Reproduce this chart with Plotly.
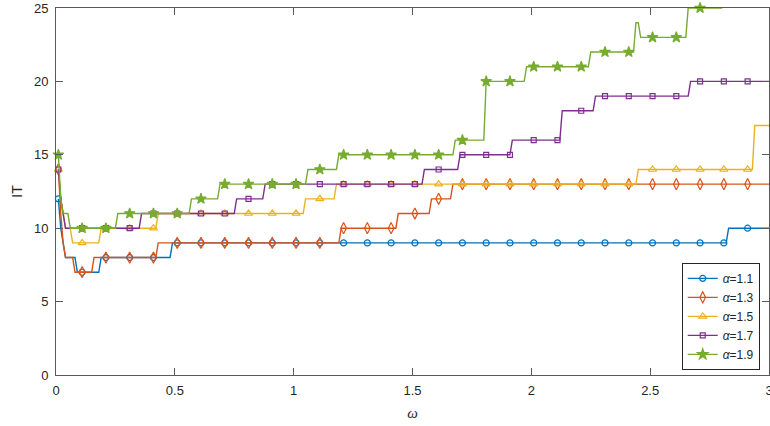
import numpy as np
import plotly.graph_objects as go

# omega grid (0.01 : 0.01 : 3)
omega = np.round(np.arange(1, 301) * 0.01, 2)

# Step data: omega where each IT level starts, and the level
blue_start = [0.01, 0.02, 0.03, 0.04, 0.09, 0.19, 0.49, 2.83]
blue_val = [12, 10, 9, 8, 7, 8, 9, 10]

orange_start = [0.01, 0.02, 0.03, 0.04, 0.08, 0.16, 0.43, 1.20, 1.44, 1.58, 1.67]
orange_val = [14, 11, 9, 8, 7, 8, 9, 10, 11, 12, 13]

yellow_start = [0.01, 0.02, 0.03, 0.04, 0.07, 0.19, 0.43, 1.05, 1.18, 2.45, 2.94]
yellow_val = [14, 12, 11, 10, 9, 10, 11, 12, 13, 14, 17]

purple_start = [0.01, 0.02, 0.03, 0.04, 0.36, 0.76, 0.88, 1.55, 1.70, 1.92, 2.13, 2.27, 2.67]
purple_val = [14, 12, 11, 10, 11, 12, 13, 14, 15, 16, 18, 19, 20]

green_start = [0.01, 0.02, 0.03, 0.06, 0.26, 0.57, 0.69, 1.06, 1.19, 1.68, 1.81, 1.98,
               2.25, 2.44, 2.46, 2.66, 2.81]
green_val = [15, 12, 11, 10, 11, 12, 13, 14, 15, 16, 20, 21, 22, 24, 23, 25, 26]

names = ["1.1", "1.3", "1.5", "1.7", "1.9"]
colors = ["#0072BD", "#D95319", "#EDB120", "#7E2F8E", "#77AC30"]
symbols = ["circle-open", "diamond-tall-open", "triangle-up-open", "square-open", "star"]
sizes = [6, 8, 7, 5, 8]

x_ticks = [0, 0.5, 1, 1.5, 2, 2.5, 3]
y_ticks = [0, 5, 10, 15, 20, 25]


def expand(starts, vals):
    idx = np.searchsorted(np.array(starts), omega + 1e-9, side="right") - 1
    return np.array(vals)[idx]


series = [
    expand(blue_start, blue_val),
    expand(orange_start, orange_val),
    expand(yellow_start, yellow_val),
    expand(purple_start, purple_val),
    expand(green_start, green_val),
]

fig = go.Figure()
for name, col, sym, sz, y in zip(names, colors, symbols, sizes, series):
    fig.add_trace(go.Scatter(x=omega, y=y, mode="lines",
                             line=dict(color=col, width=1.4),
                             showlegend=False, hoverinfo="skip"))
    mi = slice(0, None, 10)
    fig.add_trace(go.Scatter(x=omega[mi], y=y[mi], mode="markers",
                             marker=dict(symbol=sym, size=sz, color=col,
                                         line=dict(color=col, width=1.2)),
                             cliponaxis=False, showlegend=False))
    fig.add_trace(go.Scatter(x=[None], y=[None], mode="lines+markers",
                             name="<i>α</i>=" + name,
                             line=dict(color=col, width=1.4),
                             marker=dict(symbol=sym, size=sz, color=col,
                                         line=dict(color=col, width=1.2))))

axis_common = dict(showline=True, linecolor="#5a5a5a", linewidth=1, mirror="ticks",
                   ticks="inside", ticklen=7, tickcolor="#5a5a5a", tickwidth=1,
                   showgrid=False, zeroline=False, automargin=False,
                   ticklabeloverflow="allow",
                   tickfont=dict(family="Liberation Sans, Arial", size=13, color="#262626"))

fig.update_layout(
    width=770, height=426,
    margin=dict(l=56, r=1, t=8, b=51),
    plot_bgcolor="white", paper_bgcolor="white",
    xaxis=dict(range=[0, 3], tickvals=x_ticks, ticktext=[str(v) for v in x_ticks],
               ticklabelstandoff=3,
               title=dict(text="<i>ω</i>", font=dict(family="Liberation Serif", size=15, color="#262626"),
                          standoff=10),
               **axis_common),
    yaxis=dict(range=[0, 25], tickvals=y_ticks, ticklabelstandoff=4,
               title=dict(text="IT", font=dict(family="Liberation Sans, Arial", size=14, color="#262626"),
                          standoff=8),
               **axis_common),
    legend=dict(x=0.987, y=0.014, xanchor="right", yanchor="bottom",
                bgcolor="white", bordercolor="#262626", borderwidth=1,
                font=dict(family="Liberation Sans, Arial", size=12, color="#262626"),
                itemwidth=30, tracegroupgap=0),
    showlegend=True,
)

fig.write_html("out.html", config={"displayModeBar": False},
               post_script="document.body.style.margin='0px';")
